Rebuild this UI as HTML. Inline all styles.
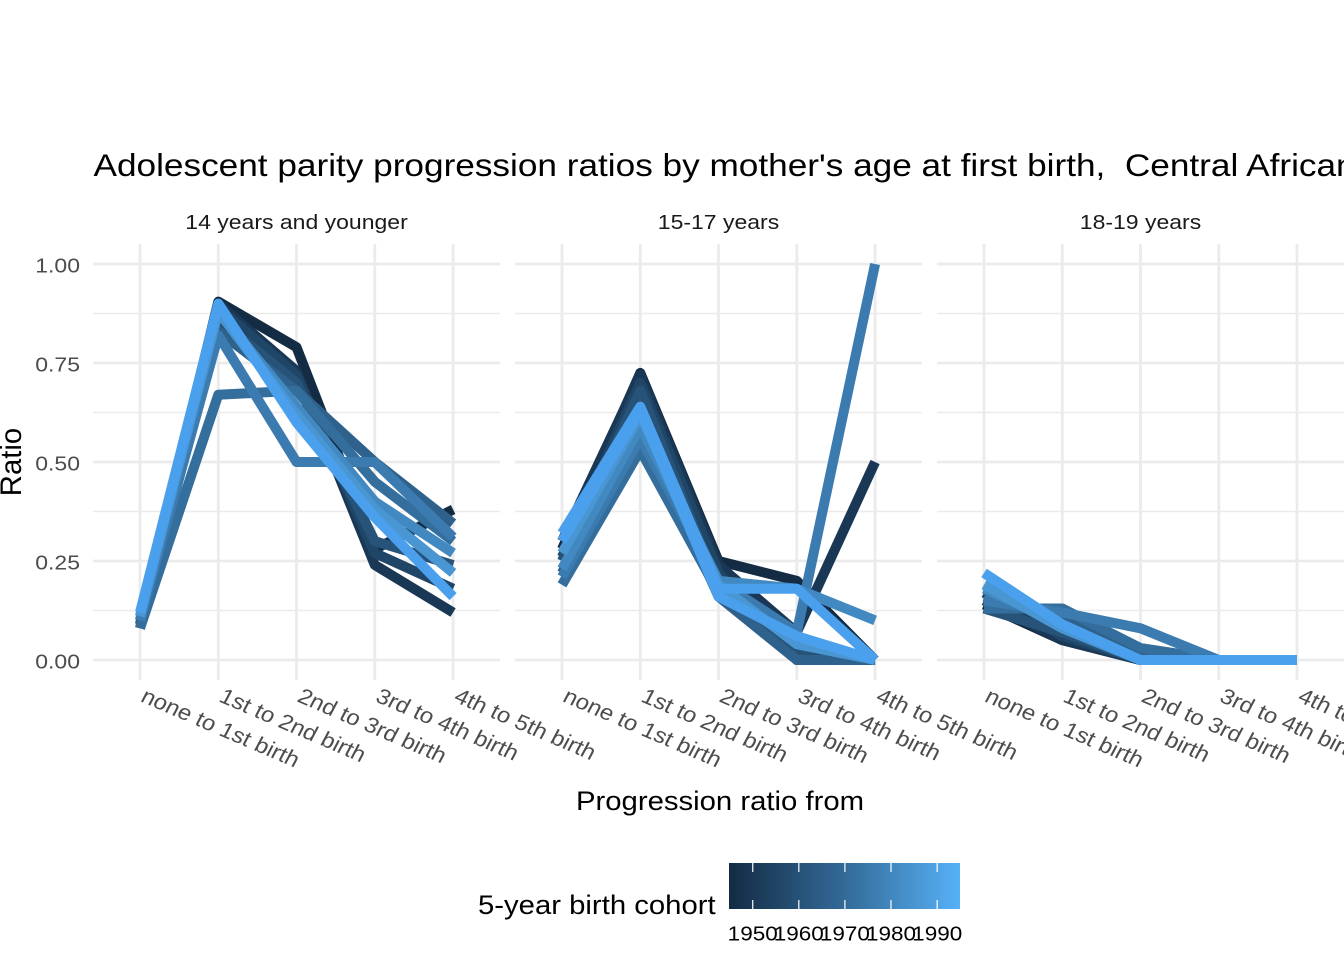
<!DOCTYPE html>
<html>
<head>
<meta charset="utf-8">
<style>
  html, body { margin: 0; padding: 0; background: #ffffff; }
  svg { display: block; }
  text { font-family: "Liberation Sans", Arial, sans-serif; }
</style>
</head>
<body>
<svg width="1344" height="960" viewBox="0 0 1344 960" xmlns="http://www.w3.org/2000/svg">
  <defs>
    <linearGradient id="lg" x1="0" y1="0" x2="1" y2="0">
      <stop offset="0" stop-color="#132B43"/>
      <stop offset="0.5" stop-color="#336A98"/>
      <stop offset="1" stop-color="#56B1F7"/>
    </linearGradient>
  </defs>
  <rect x="0" y="0" width="1344" height="960" fill="#ffffff"/>

  <!-- Title -->
  <text transform="translate(93.5,176) scale(1,0.9)" font-size="35.2" fill="#000">Adolescent parity progression ratios by mother's age at first birth,&#160; Central African Republic</text>

  <!-- Strip labels -->
  <g font-size="23" fill="#1A1A1A" text-anchor="middle">
    <text transform="translate(296.5,229) scale(1,0.9)">14 years and younger</text>
    <text transform="translate(718.5,229) scale(1,0.9)">15-17 years</text>
    <text transform="translate(1140.5,229) scale(1,0.9)">18-19 years</text>
  </g>

  <!-- Grid: minor -->
  <g stroke="#EBEBEB" stroke-width="1.4" fill="none">
    <path d="M93 610.5H500M93 511.5H500M93 412.5H500M93 313.5H500"/>
    <path d="M515 610.5H922M515 511.5H922M515 412.5H922M515 313.5H922"/>
    <path d="M937 610.5H1344M937 511.5H1344M937 412.5H1344M937 313.5H1344"/>
  </g>
  <!-- Grid: major -->
  <g stroke="#EBEBEB" stroke-width="2.8" fill="none">
    <path d="M93 660H500M93 561H500M93 462H500M93 363H500M93 264H500"/>
    <path d="M515 660H922M515 561H922M515 462H922M515 363H922M515 264H922"/>
    <path d="M937 660H1344M937 561H1344M937 462H1344M937 363H1344M937 264H1344"/>
    <path d="M140 244V680M218.3 244V680M296.5 244V680M374.8 244V680M453.1 244V680"/>
    <path d="M562 244V680M640.3 244V680M718.5 244V680M796.8 244V680M875.1 244V680"/>
    <path d="M984 244V680M1062.3 244V680M1140.5 244V680M1218.8 244V680M1297 244V680"/>
  </g>

  <!-- Data lines -->
  <g fill="none" stroke-width="10" stroke-linejoin="round" stroke-linecap="butt">
    <!-- Panel 1 -->
    <polyline stroke="#132B43" points="140,624.4 218.3,301.6 296.5,347.2 374.8,549.1 453.1,509.5"/>
    <polyline stroke="#1A3855" points="140,628.3 218.3,303.6 296.5,370.9 374.8,565 453.1,612.5"/>
    <polyline stroke="#204667" points="140,624.4 218.3,307.6 296.5,374.9 374.8,553.1 453.1,588.7"/>
    <polyline stroke="#275379" points="140,620.4 218.3,319.4 296.5,382.8 374.8,541.2 453.1,565"/>
    <polyline stroke="#2E618B" points="140,624.4 218.3,331.3 296.5,390.7 374.8,462 453.1,523.4"/>
    <polyline stroke="#346E9D" points="140,628.3 218.3,394.7 296.5,390.7 374.8,481.8 453.1,541.2"/>
    <polyline stroke="#3B7BAF" points="140,620.4 218.3,335.3 296.5,462 374.8,462 453.1,537.2"/>
    <polyline stroke="#4289C1" points="140,616.4 218.3,311.5 296.5,406.6 374.8,501.6 453.1,553.1"/>
    <polyline stroke="#4996D3" points="140,616.4 218.3,311.5 296.5,414.5 374.8,509.5 453.1,572.9"/>
    <polyline stroke="#4BA0EE" points="140,612.5 218.3,303.6 296.5,422.4 374.8,517.4 453.1,596.6"/>

    <!-- Panel 2 -->
    <polyline stroke="#132B43" points="562,549.1 640.3,372.9 718.5,561 796.8,580.8 875.1,660"/>
    <polyline stroke="#1A3855" points="562,541.2 640.3,374.9 718.5,565 796.8,632.3 875.1,462"/>
    <polyline stroke="#204667" points="562,557 640.3,382.8 718.5,572.9 796.8,660 875.1,660"/>
    <polyline stroke="#275379" points="562,561 640.3,390.7 718.5,588.7 796.8,652.1 875.1,660"/>
    <polyline stroke="#2E618B" points="562,572.9 640.3,422.4 718.5,596.6 796.8,660 875.1,660"/>
    <polyline stroke="#346E9D" points="562,584.8 640.3,450.1 718.5,592.7 796.8,640.2 875.1,660"/>
    <polyline stroke="#3B7BAF" points="562,576.8 640.3,438.2 718.5,580.8 796.8,632.3 875.1,264"/>
    <polyline stroke="#4289C1" points="562,568.9 640.3,426.4 718.5,580.8 796.8,588.7 875.1,620.4"/>
    <polyline stroke="#4996D3" points="562,553.1 640.3,414.5 718.5,584.8 796.8,644.2 875.1,660"/>
    <polyline stroke="#4BA0EE" points="562,533.3 640.3,406.6 718.5,588.7 796.8,588.7 875.1,660"/>
    <polyline stroke="#4BA0EE" points="562,541.2 640.3,410.5 718.5,596.6 796.8,636.2 875.1,660"/>

    <!-- Panel 3 -->
    <polyline stroke="#132B43" points="984,604.6 1062.3,640.2 1140.5,660 1218.8,660 1297,660"/>
    <polyline stroke="#1A3855" points="984,600.6 1062.3,640.2 1140.5,660 1218.8,660 1297,660"/>
    <polyline stroke="#204667" points="984,592.7 1062.3,636.2 1140.5,660 1218.8,660 1297,660"/>
    <polyline stroke="#275379" points="984,608.5 1062.3,632.3 1140.5,660 1218.8,660 1297,660"/>
    <polyline stroke="#2E618B" points="984,596.6 1062.3,616.4 1140.5,652.1 1218.8,660 1297,660"/>
    <polyline stroke="#346E9D" points="984,608.5 1062.3,608.5 1140.5,648.1 1218.8,660 1297,660"/>
    <polyline stroke="#3B7BAF" points="984,600.6 1062.3,612.5 1140.5,628.3 1218.8,660 1297,660"/>
    <polyline stroke="#4289C1" points="984,588.7 1062.3,624.4 1140.5,660 1218.8,660 1297,660"/>
    <polyline stroke="#4996D3" points="984,584.8 1062.3,628.3 1140.5,660 1218.8,660 1297,660"/>
    <polyline stroke="#4BA0EE" points="984,572.9 1062.3,624.4 1140.5,660 1218.8,660 1297,660"/>
  </g>

  <!-- Y axis tick labels -->
  <g font-size="23" fill="#4D4D4D" text-anchor="end">
    <text transform="translate(80,272.5) scale(1,0.9)">1.00</text>
    <text transform="translate(80,371.5) scale(1,0.9)">0.75</text>
    <text transform="translate(80,470.5) scale(1,0.9)">0.50</text>
    <text transform="translate(80,569.5) scale(1,0.9)">0.25</text>
    <text transform="translate(80,668.5) scale(1,0.9)">0.00</text>
  </g>

  <!-- X axis tick labels (rotated) -->
  <g font-size="24" fill="#4D4D4D">
    <text transform="translate(139.5,701) scale(1,0.9) rotate(25.5)">none to 1st birth</text>
    <text transform="translate(217.8,701) scale(1,0.9) rotate(25.5)">1st to 2nd birth</text>
    <text transform="translate(296,701) scale(1,0.9) rotate(25.5)">2nd to 3rd birth</text>
    <text transform="translate(374.3,701) scale(1,0.9) rotate(25.5)">3rd to 4th birth</text>
    <text transform="translate(452.6,701) scale(1,0.9) rotate(25.5)">4th to 5th birth</text>

    <text transform="translate(561.5,701) scale(1,0.9) rotate(25.5)">none to 1st birth</text>
    <text transform="translate(639.8,701) scale(1,0.9) rotate(25.5)">1st to 2nd birth</text>
    <text transform="translate(718,701) scale(1,0.9) rotate(25.5)">2nd to 3rd birth</text>
    <text transform="translate(796.3,701) scale(1,0.9) rotate(25.5)">3rd to 4th birth</text>
    <text transform="translate(874.6,701) scale(1,0.9) rotate(25.5)">4th to 5th birth</text>

    <text transform="translate(983.5,701) scale(1,0.9) rotate(25.5)">none to 1st birth</text>
    <text transform="translate(1061.8,701) scale(1,0.9) rotate(25.5)">1st to 2nd birth</text>
    <text transform="translate(1140,701) scale(1,0.9) rotate(25.5)">2nd to 3rd birth</text>
    <text transform="translate(1218.3,701) scale(1,0.9) rotate(25.5)">3rd to 4th birth</text>
    <text transform="translate(1296.5,701) scale(1,0.9) rotate(25.5)">4th to 5th birth</text>
  </g>

  <!-- Axis titles -->
  <text transform="translate(720,810) scale(1,0.9)" font-size="29.3" fill="#000" text-anchor="middle">Progression ratio from</text>
  <text transform="translate(21,462) rotate(-90)" font-size="29.3" fill="#000" text-anchor="middle">Ratio</text>

  <!-- Legend -->
  <text transform="translate(478,914) scale(1,0.9)" font-size="29.3" fill="#000">5-year birth cohort</text>
  <rect x="729" y="863" width="231" height="46" fill="url(#lg)"/>
  <g stroke="#ffffff" stroke-width="1.4" stroke-opacity="0.85">
    <path d="M752.7 863V872M798.8 863V872M844.9 863V872M891 863V872M937.2 863V872"/>
    <path d="M752.7 900V909M798.8 900V909M844.9 900V909M891 900V909M937.2 900V909"/>
  </g>
  <g font-size="22.5" fill="#000" text-anchor="middle">
    <text transform="translate(752.7,940.5) scale(1,0.9)">1950</text>
    <text transform="translate(798.8,940.5) scale(1,0.9)">1960</text>
    <text transform="translate(844.9,940.5) scale(1,0.9)">1970</text>
    <text transform="translate(891,940.5) scale(1,0.9)">1980</text>
    <text transform="translate(937.2,940.5) scale(1,0.9)">1990</text>
  </g>
</svg>
</body>
</html>
